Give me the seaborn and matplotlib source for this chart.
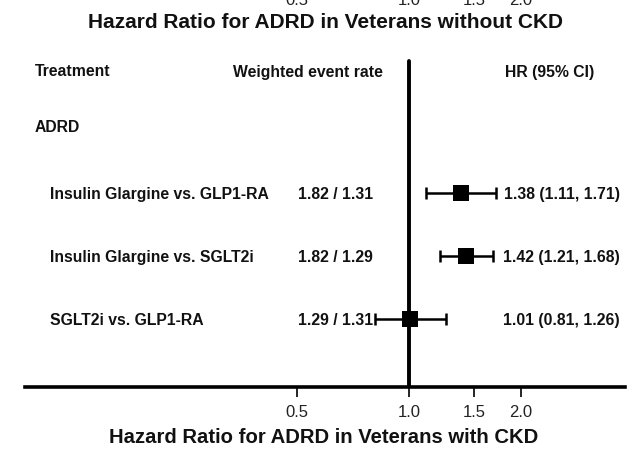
import matplotlib
matplotlib.use("Agg")
import matplotlib.pyplot as plt
import matplotlib.transforms as mtransforms
import pandas as pd
import seaborn as sns

## Data
comparisons = ["Insulin Glargine vs. GLP1-RA", "Insulin Glargine vs. SGLT2i", "SGLT2i vs. GLP1-RA"]
event_rates = ["1.82 / 1.31", "1.82 / 1.29", "1.29 / 1.31"]
hr = [1.38, 1.42, 1.01]
ci_low = [1.11, 1.21, 0.81]
ci_high = [1.71, 1.68, 1.26]
rows = [3, 2, 1]
tick_values = [0.5, 1.0, 1.5, 2.0]
tick_labels = ["0.5", "1.0", "1.5", "2.0"]

df = pd.DataFrame({
    "comparison": comparisons,
    "rate": event_rates,
    "hr": hr,
    "lo": ci_low,
    "hi": ci_high,
    "row": rows,
})

sns.set_theme(style="white")
plt.rcParams["font.family"] = ["Liberation Sans", "DejaVu Sans"]

W, H = 637, 452
fig = plt.figure(figsize=(W / 100, H / 100), dpi=100)
ax = fig.add_axes([25 / W, (H - 388) / H, 600 / W, (388 - 60) / H])

## Confidence intervals and point estimates
ax.errorbar(df["hr"], df["row"],
            xerr=[df["hr"] - df["lo"], df["hi"] - df["hr"]],
            fmt="none", ecolor="black", elinewidth=1.8, capsize=4.5, capthick=1.8, zorder=2)
sns.scatterplot(data=df, x="hr", y="row", marker="s", s=120, color="black",
                edgecolor="black", linewidth=0, ax=ax, zorder=3, legend=False)

ax.axvline(1.0, ymin=0, ymax=0.994, color="black", lw=2.8, zorder=1)

ax.set_xscale("log")
ax.set_xlim(0.093, 3.81)
ax.set_ylim(-0.079, 5.127)
ax.set_xticks(tick_values)
ax.set_xticklabels(tick_labels)
ax.minorticks_off()
ax.set_yticks([])
ax.set_xlabel("")
ax.set_ylabel("")
for side in ["left", "top", "right"]:
    ax.spines[side].set_visible(False)
ax.spines["bottom"].set_linewidth(2.6)
ax.spines["bottom"].set_color("black")
ax.tick_params(axis="x", direction="out", length=7, width=1.2, color="black",
               labelsize=12, labelcolor="#222222", pad=5, bottom=True)

## Text columns
row_tr = mtransforms.blended_transform_factory(fig.transFigure, ax.transData)
bold = dict(fontweight="bold", fontsize=11.3, color="#111111")
fig.text(35 / W, 1 - 72 / H, "Treatment", ha="left", va="center", **bold)
fig.text(308 / W, 1 - 72 / H, "Weighted event rate", ha="center", va="center", **bold)
fig.text(550 / W, 1 - 72 / H, "HR (95% CI)", ha="center", va="center", **bold)
ax.text(35 / W, 4.06, "ADRD", transform=row_tr, ha="left", va="center", **bold)
for _, r in df.iterrows():
    ax.text(50 / W, r["row"], r["comparison"], transform=row_tr, ha="left", va="center", **bold)
    ax.text(298 / W, r["row"], r["rate"], transform=row_tr, ha="left", va="center", **bold)
    ax.text(620 / W, r["row"], f"{r['hr']:.2f} ({r['lo']:.2f}, {r['hi']:.2f})",
            transform=row_tr, ha="right", va="center", **bold)

## Titles (top panel cut off in the source image)
top_tr = mtransforms.blended_transform_factory(ax.transData, fig.transFigure)
for v, lab in zip(tick_values, tick_labels):
    ax.text(v, 1 - 5 / H, lab, transform=top_tr, ha="center", va="baseline",
            fontsize=12, color="#222222")
fig.text(326 / W, 1 - 22 / H, "Hazard Ratio for ADRD in Veterans without CKD",
         ha="center", va="center", fontweight="bold", fontsize=15, color="#111111")
fig.text(324 / W, 1 - 438 / H, "Hazard Ratio for ADRD in Veterans with CKD",
         ha="center", va="center", fontweight="bold", fontsize=14.6, color="#111111")

fig.savefig("out.png", dpi=100, facecolor="white")
